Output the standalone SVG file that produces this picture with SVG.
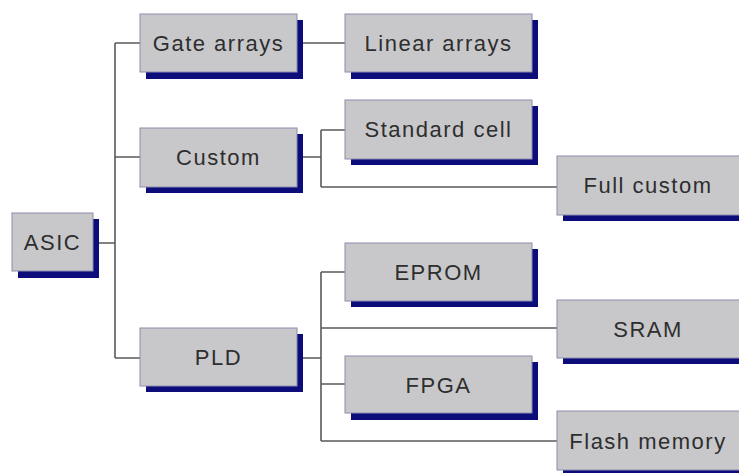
<svg xmlns="http://www.w3.org/2000/svg" width="739" height="473" viewBox="0 0 739 473">
<style>
.sh{fill:#0c0c7a}
.bx{fill:#c8c8cb;stroke:#8c8cae;stroke-width:1}
.t{font-family:"Liberation Sans",Arial,sans-serif;font-size:22px;fill:#2e2e2e;text-anchor:middle;letter-spacing:1.5px}
.c{fill:none;stroke:#5a5a5a;stroke-width:1.6}
</style>
<rect width="739" height="473" fill="#ffffff"/>
<g id="connectors">
<path class="c" d="M93 243H115M115 43V358M115 43H140M115 157H140M115 358H140"/>
<path class="c" d="M303 43H345"/>
<path class="c" d="M303 157H321M321 130V187M321 130H345M321 187H557"/>
<path class="c" d="M303 358H321M321 272V441M321 272H345M321 328H557M321 384H345M321 441H557"/>
</g>
<g id="asic"><rect class="sh" x="18" y="219" width="81" height="59"/><rect class="bx" x="12" y="213" width="81" height="58"/><text class="t" x="52.5" y="250">ASIC</text></g>
<g id="gate-arrays"><rect class="sh" x="146" y="20" width="157" height="59"/><rect class="bx" x="140" y="14" width="157" height="58"/><text class="t" x="218.5" y="51">Gate arrays</text></g>
<g id="custom"><rect class="sh" x="146" y="134" width="157" height="59"/><rect class="bx" x="140" y="128" width="157" height="59"/><text class="t" x="218.5" y="165">Custom</text></g>
<g id="pld"><rect class="sh" x="146" y="334" width="157" height="58"/><rect class="bx" x="140" y="328" width="157" height="58"/><text class="t" x="218.5" y="365">PLD</text></g>
<g id="linear-arrays"><rect class="sh" x="351" y="20" width="187" height="59"/><rect class="bx" x="345" y="14" width="187" height="58"/><text class="t" x="438.5" y="51">Linear arrays</text></g>
<g id="standard-cell"><rect class="sh" x="351" y="106" width="187" height="59"/><rect class="bx" x="345" y="100" width="187" height="59"/><text class="t" x="438.5" y="137">Standard cell</text></g>
<g id="full-custom"><rect class="sh" x="563" y="162" width="187" height="59"/><rect class="bx" x="557" y="156" width="187" height="59"/><text class="t" x="648" y="193">Full custom</text></g>
<g id="eprom"><rect class="sh" x="351" y="249" width="187" height="58"/><rect class="bx" x="345" y="243" width="187" height="58"/><text class="t" x="438.5" y="280">EPROM</text></g>
<g id="sram"><rect class="sh" x="563" y="306" width="187" height="58"/><rect class="bx" x="557" y="300" width="187" height="58"/><text class="t" x="648" y="337">SRAM</text></g>
<g id="fpga"><rect class="sh" x="351" y="362" width="187" height="58"/><rect class="bx" x="345" y="356" width="187" height="57"/><text class="t" x="438.5" y="393">FPGA</text></g>
<g id="flash-memory"><rect class="sh" x="563" y="417" width="187" height="59"/><rect class="bx" x="557" y="411" width="187" height="59"/><text class="t" x="648" y="449">Flash memory</text></g>
</svg>
